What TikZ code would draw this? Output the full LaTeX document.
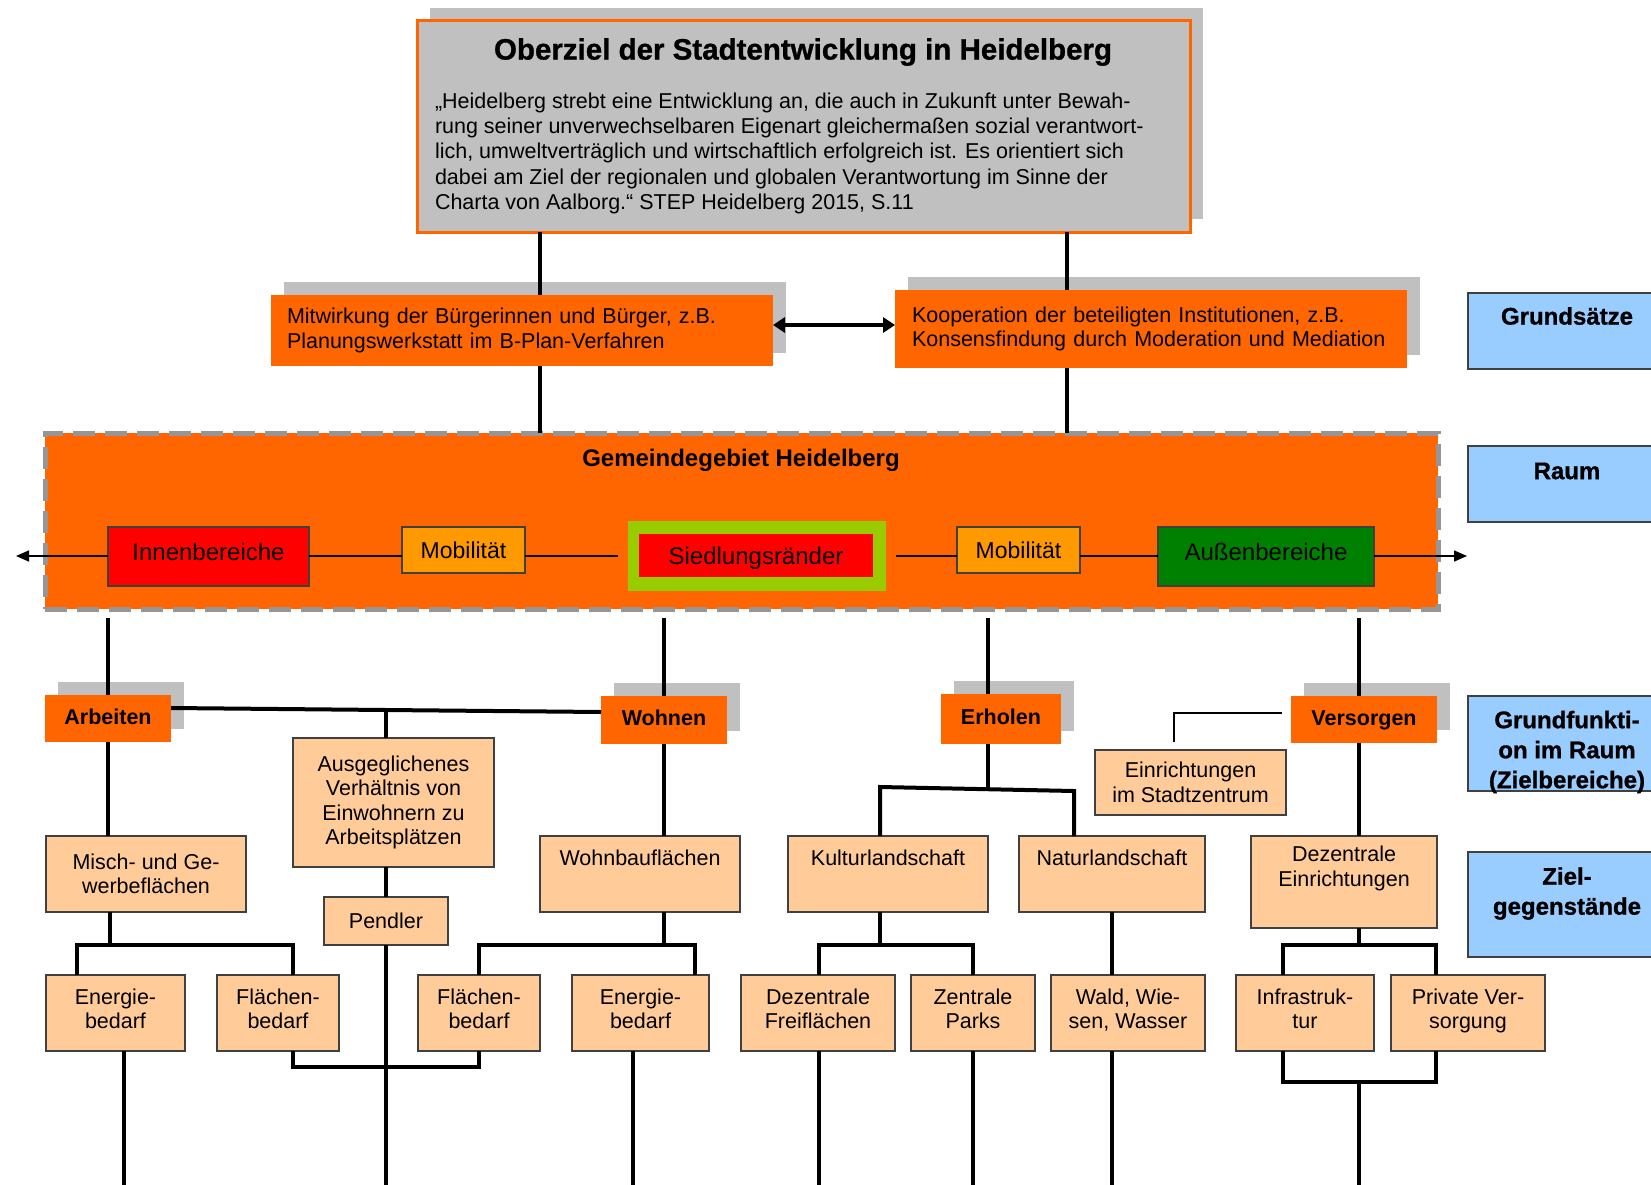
\documentclass[tikz,border=0pt]{standalone}
\usepackage{fontspec}
\setmainfont{Liberation Sans}
\newfontfamily\heavyfont{Liberation Sans Bold}[FakeBold=1]
\usetikzlibrary{arrows.meta,shadows}
\definecolor{org}{HTML}{FF6600}
\definecolor{shg}{HTML}{C0C0C0}
\definecolor{peach}{HTML}{FFCC99}
\definecolor{mob}{HTML}{FF9900}
\definecolor{lime}{HTML}{99CC00}
\definecolor{grn}{HTML}{008000}
\definecolor{blu}{HTML}{99CCFF}
\definecolor{dashg}{HTML}{969696}
\definecolor{bord}{HTML}{404040}
\begin{document}
\begin{tikzpicture}[x=1pt,y=-1pt,
 every node/.style={inner sep=0pt, outer sep=0pt, font=\fontsize{21.5}{24.5}\selectfont},
 shad/.style={drop shadow={shadow xshift=13pt, shadow yshift=13pt, opacity=1, fill=shg}},
 topbox/.style={shad, fill=shg, draw=org, line width=3pt},
 obox/.style={shad, fill=org},
 fbox/.style={shad, fill=org, font=\fontsize{21.5}{24.5}\selectfont\bfseries, text height=15.5pt, text depth=4.5pt},
 pbox/.style={fill=peach, draw=bord, line width=1.3pt, align=center},
 rbox/.style={draw=bord, line width=1.3pt},
 rowtxt/.style={font=\fontsize{24}{26}\selectfont, text height=20pt, text depth=3pt},
 rowhi/.style={font=\fontsize{24}{26}\selectfont, text height=15pt, text depth=8pt},
 bbox/.style={fill=blu, draw=bord, line width=1.5pt},
 btxt/.style={font=\heavyfont\fontsize{24}{30}\selectfont, align=center},
 conn/.style={line width=4pt},
 thinl/.style={line width=1.5pt},
 tip/.style={-{Triangle[length=13pt,width=11pt]}},
]
\useasboundingbox (0,0) rectangle (1651,1185);
\clip (0,0) rectangle (1651,1185);

% ---------- top box
\node[topbox, minimum width=773, minimum height=211] (top) at (803.5,126.5) {};
\node[font=\heavyfont\fontsize{29.5}{31}\selectfont] (ttl) at (803,52) {Oberziel der Stadtentwicklung in Heidelberg};
\node[anchor=north west, align=left, font=\fontsize{21.5}{25.2}\selectfont] (quote) at (435,93) {„Heidelberg strebt eine Entwicklung an, die auch in Zukunft unter Bewah-\\rung seiner unverwechselbaren Eigenart gleichermaßen sozial verantwort-\\lich, umweltverträglich und wirtschaftlich erfolgreich ist. Es orientiert sich\\dabei am Ziel der regionalen und globalen Verantwortung im Sinne der\\Charta von Aalborg.“ STEP Heidelberg 2015, S.11};

% ---------- Grundsaetze boxes
\node[obox, minimum width=502, minimum height=71, text width=470, align=left] (mit) at (522,330.5) {Mitwirkung der Bürgerinnen und Bürger, z.B.\\Planungswerkstatt im B-Plan-Verfahren};
\node[obox, minimum width=512, minimum height=78, text width=478, align=left] (koop) at (1151,329) {Kooperation der beteiligten Institutionen, z.B.\\Konsensfindung durch Moderation und Mediation};
\coordinate (ay) at (0,325);
\draw[conn, {Triangle[length=12pt,width=15pt]}-{Triangle[length=12pt,width=15pt]}] (mit.east |- ay) -- (koop.west |- ay);

% ---------- Gemeindegebiet
\node[draw=dashg, fill=org, line width=5pt, dash pattern=on 22pt off 10pt, minimum width=1393, minimum height=176] (gem) at (741.5,521) {};
\node[font=\fontsize{24}{26}\selectfont\bfseries] (gemt) at (741,460) {Gemeindegebiet Heidelberg};

\coordinate (ca) at (540,0);
\coordinate (cb) at (1067,0);
\draw[conn] (top.south -| ca) -- (mit.north -| ca);
\draw[conn] (top.south -| cb) -- (koop.north -| cb);
\draw[conn] (mit.south -| ca) -- (gem.north -| ca);
\draw[conn] (koop.south -| cb) -- (gem.north -| cb);

% row
\node[rbox, fill=red, minimum width=201, minimum height=59, rowhi] (innen) at (208.5,556.5) {Innenbereiche};
\node[rbox, fill=mob, minimum width=123, minimum height=46, font=\fontsize{23}{25}\selectfont] (mob1) at (463.5,550) {Mobilität};
\node[fill=lime, minimum width=258, minimum height=70] (sfr) at (757,556) {};
\node[fill=red, minimum width=234, minimum height=43, rowtxt] (sied) at (756,555.5) {Siedlungsränder};
\node[rbox, fill=mob, minimum width=123, minimum height=46, font=\fontsize{23}{25}\selectfont] (mob2) at (1018.5,550) {Mobilität};
\node[rbox, fill=grn, minimum width=216, minimum height=59, rowhi] (aus) at (1266,556.5) {Außenbereiche};
\coordinate (ry) at (0,556);
\coordinate (lend) at (16,556);
\coordinate (rend) at (1467,556);
\coordinate (sl) at (618,556);
\coordinate (sr) at (896,556);
\draw[thinl, tip] (innen.west |- ry) -- (lend);
\draw[thinl] (innen.east |- ry) -- (mob1.west |- ry);
\draw[thinl] (mob1.east |- ry) -- (sl);
\draw[thinl] (sr) -- (mob2.west |- ry);
\draw[thinl] (mob2.east |- ry) -- (aus.west |- ry);
\draw[thinl, tip] (aus.east |- ry) -- (rend);

% ---------- Grundfunktionen
\node[fbox, minimum width=126, minimum height=47] (arb) at (108,718.5) {Arbeiten};
\node[fbox, minimum width=126, minimum height=48] (wohn) at (664,720) {Wohnen};
\node[fbox, minimum width=120, minimum height=50] (erh) at (1001,719) {Erholen};
\node[fbox, minimum width=146, minimum height=47] (vers) at (1364,719.5) {Versorgen};

\coordinate (d1) at (108,618);
\coordinate (d2) at (664,618);
\coordinate (d3) at (988,618);
\coordinate (d4) at (1359,618);
\draw[conn] (d1) -- (d1 |- arb.north);
\draw[conn] (d2) -- (d2 |- wohn.north);
\draw[conn] (d3) -- (d3 |- erh.north);
\draw[conn] (d4) -- (d4 |- vers.north);

% Arbeiten - Wohnen
\coordinate (aw1) at (171,708);
\coordinate (aw2) at (601,712);
\coordinate (m1) at (386,710);
\draw[conn] (aw1) -- (aw2);

\node[pbox, minimum width=201, minimum height=129] (ausg) at (393.5,802.5) {Ausgeglichenes\\Verhältnis von\\Einwohnern zu\\Arbeitsplätzen};
\node[pbox, minimum width=124, minimum height=48] (pend) at (386,921) {Pendler};
\draw[conn] (m1) -- (m1 |- ausg.north);
\draw[conn] (ausg.south -| pend.north) -- (pend.north);
\coordinate (bot) at (0,1195);
\draw[conn] (pend.south) -- (pend.south |- bot);

% Zielgegenstaende
\node[pbox, minimum width=200, minimum height=76] (misch) at (146,874) {Misch- und Ge-\\werbeflächen};
\node[pbox, minimum width=200, minimum height=76] (wb) at (640,874) {Wohnbauflächen\\\strut};
\node[pbox, minimum width=200, minimum height=76] (kul) at (888,874) {Kulturlandschaft\\\strut};
\node[pbox, minimum width=186, minimum height=76] (nat) at (1112,874) {Naturlandschaft\\\strut};
\node[pbox, minimum width=186, minimum height=92] (dez) at (1344,882) {Dezentrale\\Einrichtungen\\\strut};
\node[pbox, minimum width=191, minimum height=65] (einr) at (1190.5,782.5) {Einrichtungen\\im Stadtzentrum};

\draw[conn] (arb.south) -- (arb.south |- misch.north);
\draw[conn] (wohn.south) -- (wohn.south |- wb.north);
\coordinate (eh) at (988,789);
\coordinate (ekl) at (880,787);
\coordinate (enl) at (1074,791);
\draw[conn] (eh |- erh.south) -- (eh);
\draw[conn, line join=miter] (ekl |- kul.north) -- (ekl) -- (enl) -- (enl |- nat.north);
\coordinate (vt0) at (1282,713);
\coordinate (vt1) at (1174,713);
\coordinate (vt2) at (1174,742);
\draw[thinl] (vt0) -- (vt1) -- (vt2);
\coordinate (vx) at (1359,0);
\draw[conn] (vers.south -| vx) -- (dez.north -| vx);

% bottom row
\begin{scope}[every node/.append style={text depth=9pt}]
\node[pbox, minimum width=139, minimum height=76] (e1) at (115.5,1013) {Energie-\\bedarf};
\node[pbox, minimum width=122, minimum height=76] (f1) at (278,1013) {Flächen-\\bedarf};
\node[pbox, minimum width=122, minimum height=76] (f2) at (479,1013) {Flächen-\\bedarf};
\node[pbox, minimum width=137, minimum height=76] (e2) at (640.5,1013) {Energie-\\bedarf};
\node[pbox, minimum width=154, minimum height=76] (df) at (818,1013) {Dezentrale\\Freiflächen};
\node[pbox, minimum width=124, minimum height=76] (zp) at (973,1013) {Zentrale\\Parks};
\node[pbox, minimum width=154, minimum height=76] (ww) at (1128,1013) {Wald, Wie-\\sen, Wasser};
\node[pbox, minimum width=138, minimum height=76] (is) at (1305,1013) {Infrastruk-\\tur};
\node[pbox, minimum width=154, minimum height=76] (pv) at (1468,1013) {Private Ver-\\sorgung};
\end{scope}

% brackets above bottom row
\coordinate (b1) at (110,945);
\coordinate (b1l) at (77,945);
\coordinate (b1r) at (293,945);
\draw[conn] (misch.south -| b1) -- (b1);
\draw[conn, line join=miter] (e1.north -| b1l) -- (b1l) -- (b1r) -- (f1.north -| b1r);
\coordinate (b2) at (664,945);
\coordinate (b2l) at (479,945);
\coordinate (b2r) at (695,945);
\draw[conn] (wb.south -| b2) -- (b2);
\draw[conn, line join=miter] (f2.north -| b2l) -- (b2l) -- (b2r) -- (e2.north -| b2r);
\coordinate (b3) at (880,945);
\coordinate (b3l) at (819,945);
\coordinate (b3r) at (973,945);
\draw[conn] (kul.south -| b3) -- (b3);
\draw[conn, line join=miter] (df.north -| b3l) -- (b3l) -- (b3r) -- (zp.north -| b3r);
\coordinate (b4) at (1112,0);
\draw[conn] (nat.south -| b4) -- (ww.north -| b4);
\coordinate (b5) at (1359,945);
\coordinate (b5l) at (1283,945);
\coordinate (b5r) at (1436,945);
\draw[conn] (dez.south -| b5) -- (b5);
\draw[conn, line join=miter] (is.north -| b5l) -- (b5l) -- (b5r) -- (pv.north -| b5r);

% below bottom row
\coordinate (u1) at (124,0);
\draw[conn] (e1.south -| u1) -- (u1 |- bot);
\coordinate (u2l) at (293,1067);
\coordinate (u2r) at (479,1067);
\draw[conn, line join=miter] (f1.south -| u2l) -- (u2l) -- (u2r) -- (f2.south -| u2r);
\coordinate (u3) at (633,0);
\draw[conn] (e2.south -| u3) -- (u3 |- bot);
\coordinate (u4) at (819,0);
\draw[conn] (df.south -| u4) -- (u4 |- bot);
\coordinate (u5) at (973,0);
\draw[conn] (zp.south -| u5) -- (u5 |- bot);
\coordinate (u6) at (1112,0);
\draw[conn] (ww.south -| u6) -- (u6 |- bot);
\coordinate (u7l) at (1283,1082);
\coordinate (u7r) at (1436,1082);
\coordinate (u7) at (1359,1082);
\draw[conn, line join=miter] (is.south -| u7l) -- (u7l) -- (u7r) -- (pv.south -| u7r);
\draw[conn] (u7) -- (u7 |- bot);

% ---------- blue labels
\node[bbox, minimum width=220, minimum height=76, anchor=west] (gs) at (1468,331) {};
\node[btxt] (gst) at (1567,316) {Grundsätze};
\node[bbox, minimum width=220, minimum height=76, anchor=west] (rm) at (1468,484) {};
\node[btxt] (rmt) at (1567,471) {Raum};
\node[bbox, minimum width=220, minimum height=95, anchor=west] (gf) at (1468,743.5) {};
\node[btxt] (gft) at (1567,752) {Grundfunkti-\\on im Raum\\(Zielbereiche)};
\node[bbox, minimum width=220, minimum height=105, anchor=west] (zg) at (1468,904.5) {};
\node[btxt] (zgt) at (1567,893.5) {Ziel-\\gegenstände};
\end{tikzpicture}
\end{document}
